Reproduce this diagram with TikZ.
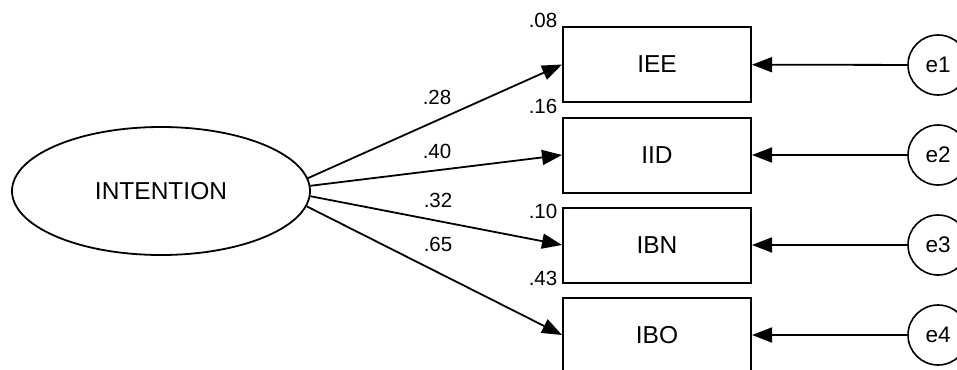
\documentclass[tikz,border=0pt]{standalone}
\usepackage{fontspec}
\setmainfont{Liberation Sans}
\usetikzlibrary{arrows.meta,shapes.geometric}
\begin{document}
\begin{tikzpicture}[x=1pt,y=-1pt,
  every node/.style={inner sep=0pt},
  latent/.style={draw, ellipse, line width=1.8pt, minimum width=298pt,
    minimum height=128pt, font=\fontsize{24.5}{29}\selectfont},
  observed/.style={draw, rectangle, line width=2pt, minimum width=188pt,
    minimum height=75pt, font=\fontsize{24.5}{29}\selectfont},
  errvar/.style={draw, circle, line width=1.6pt, minimum size=60pt,
    font=\fontsize{22.5}{27}\selectfont},
  coef/.style={font=\fontsize{20.5}{24}\selectfont},
  path/.style={line width=1.8pt, -{Triangle[length=20pt,width=15pt]}}
]
\useasboundingbox (0,0) rectangle (957,369);
\clip (0,0) rectangle (957,369);

% latent factor
\node[latent] (int) at (161,191) {INTENTION};

% indicators
\node[observed] (iee) at (657,64.5) {IEE};
\node[observed] (iid) at (657,155) {IID};
\node[observed] (ibn) at (657,245) {IBN};
\node[observed] (ibo) at (657,335) {IBO};

% error terms
\node[errvar] (e1) at (938,65) {e1};
\node[errvar] (e2) at (938,155) {e2};
\node[errvar] (e3) at (938,245) {e3};
\node[errvar] (e4) at (938,335) {e4};

% loadings
\draw[path] (int.5) -- (iee.west);
\draw[path] (int.2) -- (iid.west);
\draw[path] (int.-2.3) -- (ibn.west);
\draw[path] (int.-6.5) -- (ibo.west);

% error paths
\draw[path] (e1) -- (iee);
\draw[path] (e2) -- (iid);
\draw[path] (e3) -- (ibn);
\draw[path] (e4) -- (ibo);

% standardized loadings
\node[coef] (l1) at (437,97) {.28};
\node[coef] (l2) at (437,151) {.40};
\node[coef] (l3) at (438,200) {.32};
\node[coef] (l4) at (438,244) {.65};

% squared multiple correlations
\node[coef] (r1) at (543,20) {.08};
\node[coef] (r2) at (543,106) {.16};
\node[coef] (r3) at (543,211) {.10};
\node[coef] (r4) at (543,278) {.43};
\end{tikzpicture}
\end{document}
